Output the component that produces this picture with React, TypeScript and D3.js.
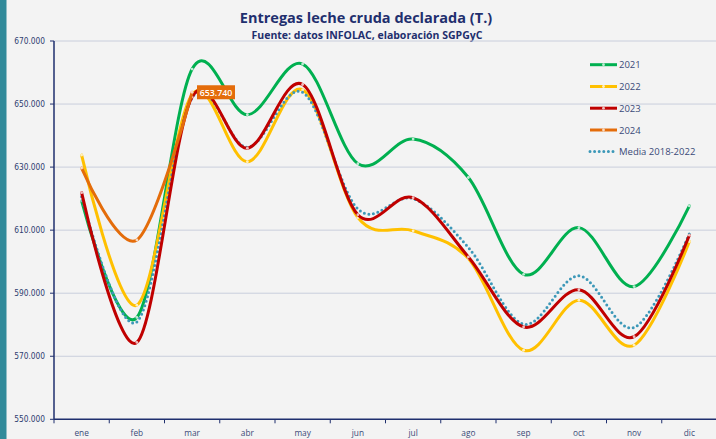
import React from "react";
import * as d3 from "d3";

const months = ["ene", "feb", "mar", "abr", "may", "jun", "jul", "ago", "sep", "oct", "nov", "dic"];
const yTicks = [550000, 570000, 590000, 610000, 630000, 650000, 670000];

const s2021 = [619300, 582300, 661100, 646600, 662700, 631100, 638900, 626700, 596000, 610800, 592100, 617700];
const s2022 = [633800, 586200, 653000, 631700, 654500, 614000, 609800, 601000, 571900, 587800, 573500, 606400];
const s2023 = [621900, 574400, 652200, 636000, 656200, 614900, 620300, 601500, 579300, 591100, 576200, 608400];
const s2024 = [629700, 606900, 653740];
const sMedia = [620600, 580900, 652000, 636300, 653700, 616700, 620000, 604500, 580200, 595500, 579100, 608900];

const seriesNames = ["2021", "2022", "2023", "2024", "Media 2018-2022"];

const W = 716;
const H = 439;
const left = 54;
const top = 41;
const bottom = 419.3;

export default function App() {
  const x = d3.scaleBand<string>().domain(months).range([left, W + 1]);
  const y = d3.scaleLinear().domain([550000, 670000]).range([bottom, top]);
  const cx = (i: number) => (x(months[i]) as number) + x.bandwidth() / 2;
  const line = d3
    .line<number>()
    .x((_, i) => cx(i))
    .y((d) => y(d))
    .curve(d3.curveCardinal.tension(0));

  const navy = "#1F2F6E";
  const series = [
    { name: seriesNames[0], data: s2021, color: "#00B050", dotted: false },
    { name: seriesNames[1], data: s2022, color: "#FFC000", dotted: false },
    { name: seriesNames[2], data: s2023, color: "#C00000", dotted: false },
    { name: seriesNames[3], data: s2024, color: "#E46C0A", dotted: false },
    { name: seriesNames[4], data: sMedia, color: "#3C98B8", dotted: true },
  ];
  const drawOrder = [0, 1, 4, 2, 3];
  const legendY = [64.7, 86.5, 108.2, 130, 151.5];
  const labelVal = s2024[2];

  return (
    <svg
      width={W}
      height={H}
      style={{ position: "fixed", left: 0, top: 0, background: "#F3F3F3" }}
      fontFamily="'Open Sans', 'Liberation Sans', sans-serif"
    >
      <rect x={0} y={0} width={W} height={H} fill="#F3F3F3" />
      <rect x={0} y={0} width={6.5} height={H} fill="#318A9A" />

      <text x={366} y={23} textAnchor="middle" fontSize={14.5} fontWeight={700} fill={navy}>
        Entregas leche cruda declarada (T.)
      </text>
      <text x={367} y={39} textAnchor="middle" fontSize={10.5} fontWeight={700} fill={navy}>
        Fuente: datos INFOLAC, elaboración SGPGyC
      </text>

      {yTicks.map((t) => (
        <g key={t}>
          {t !== 550000 && (
            <line x1={left} x2={W} y1={y(t)} y2={y(t)} stroke="#C9CEDC" strokeWidth={1} />
          )}
          <line x1={left - 4} x2={left} y1={y(t)} y2={y(t)} stroke={navy} strokeWidth={1} />
          <text
            x={45}
            y={y(t) + 3}
            textAnchor="end"
            fontSize={8.3}
            fill="#2E3D70"
            fontFamily="'Liberation Sans Narrow', 'DejaVu Sans Condensed', 'Liberation Sans', sans-serif"
          >
            {d3.format(",")(t).replace(/,/g, ".")}
          </text>
        </g>
      ))}

      <line x1={left} x2={left} y1={top} y2={bottom} stroke={navy} strokeWidth={1.5} />
      <line x1={left} x2={W} y1={bottom} y2={bottom} stroke={navy} strokeWidth={1.5} />
      {months.map((m, i) => (
        <g key={m}>
          <line
            x1={x(m) as number}
            x2={x(m) as number}
            y1={bottom}
            y2={bottom + 4}
            stroke={navy}
            strokeWidth={1}
          />
          <text x={cx(i)} y={436} textAnchor="middle" fontSize={8.3} fill="#3A4A78">
            {m}
          </text>
        </g>
      ))}

      {drawOrder.map((k) => {
        const s = series[k];
        return (
          <g key={s.name}>
            <path
              d={line(s.data) as string}
              fill="none"
              stroke={s.color}
              strokeWidth={3}
              strokeLinecap="round"
              strokeDasharray={s.dotted ? "0 4.6" : undefined}
            />
            {!s.dotted &&
              s.data.map((v, i) => (
                <circle key={i} cx={cx(i)} cy={y(v)} r={1.4} fill="#FFFFFF" fillOpacity={0.75} />
              ))}
          </g>
        );
      })}

      <rect x={197} y={y(labelVal) - 7} width={38} height={14} fill="#E46C0A" />
      <text x={216} y={y(labelVal) + 3.3} textAnchor="middle" fontSize={8.8} fontWeight={600} fill="#FFFFFF">
        {d3.format(",")(labelVal).replace(/,/g, ".")}
      </text>

      {series.map((s, i) => (
        <g key={s.name}>
          <line
            x1={590}
            x2={617}
            y1={legendY[i]}
            y2={legendY[i]}
            stroke={s.color}
            strokeWidth={3}
            strokeLinecap={s.dotted ? "round" : "butt"}
            strokeDasharray={s.dotted ? "0 4.6" : undefined}
          />
          {!s.dotted && <circle cx={603.5} cy={legendY[i]} r={1.4} fill="#FFFFFF" fillOpacity={0.75} />}
          <text x={619} y={legendY[i] + 3.5} fontSize={9.5} fill="#3A4A78">
            {s.name}
          </text>
        </g>
      ))}
    </svg>
  );
}
